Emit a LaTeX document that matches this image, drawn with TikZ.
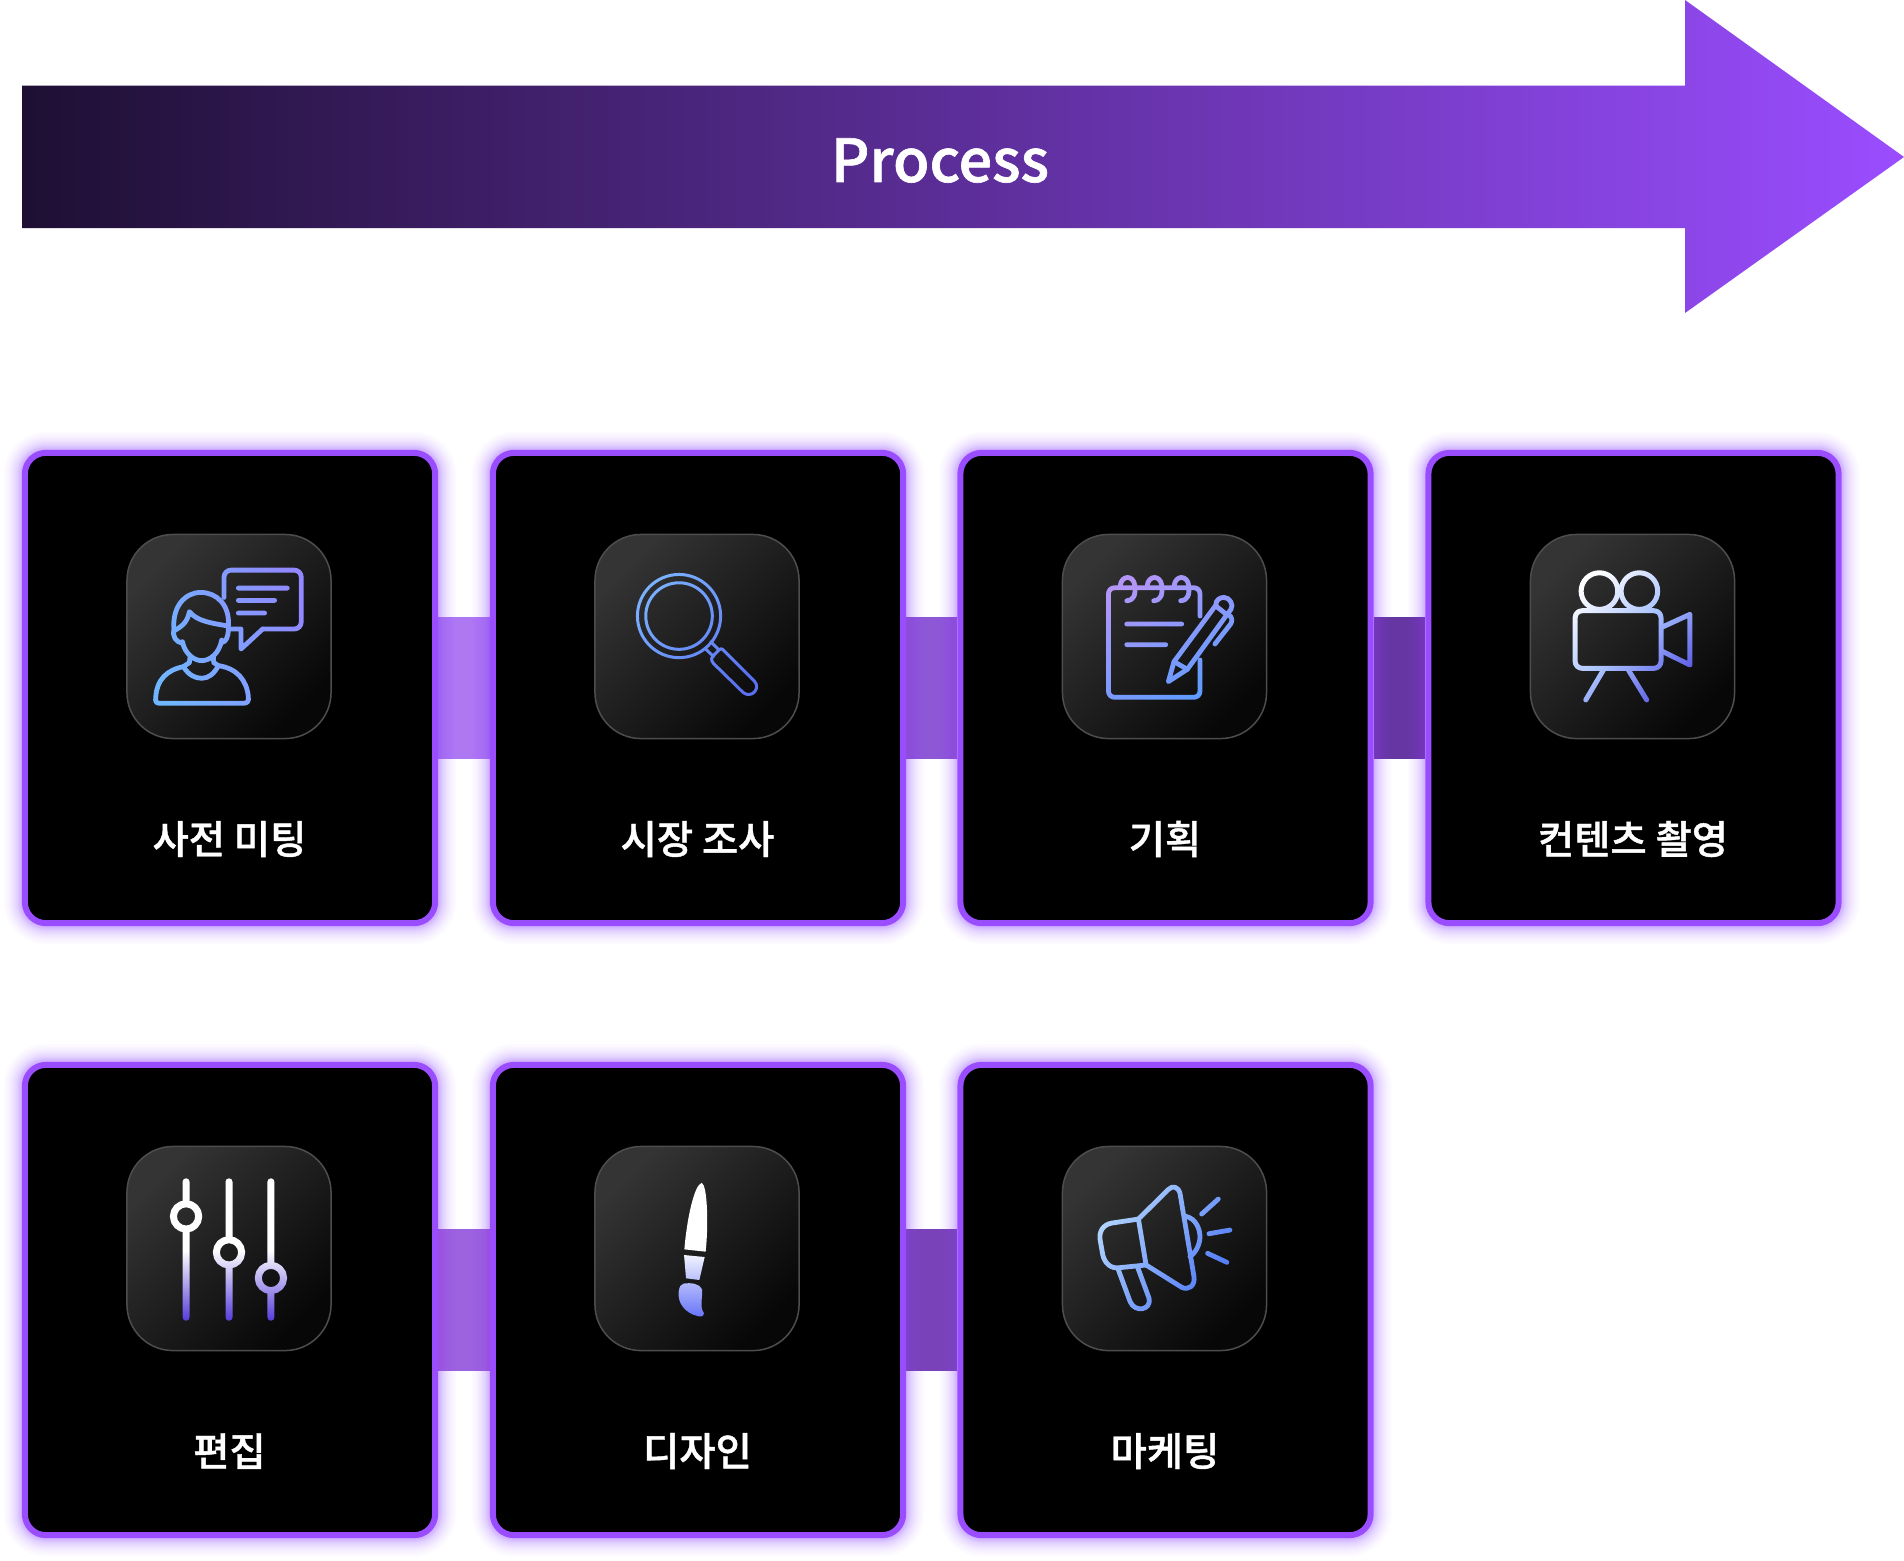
\documentclass[tikz,border=0pt]{standalone}
\usepackage{fontspec}
\usetikzlibrary{fadings}
\pgfdeclarelayer{bars}
\pgfsetlayers{bars,main}
\newfontfamily\krm[FakeBold=1.1]{Noto Sans CJK KR Medium}
\definecolor{pur}{HTML}{9A4DFF}
\definecolor{darkp}{HTML}{1E0F33}
\definecolor{icb}{HTML}{4D4D4D}
\definecolor{ict}{HTML}{343434}
\definecolor{icl}{HTML}{070707}
\tikzset{
  iconline/.style={draw=white,line cap=round,line join=round,line width=0.048cm},
  fadebox/.style={fill=black},
  cardbox/.style={draw=pur,fill=black,line width=0.06cm,rounded corners=0.21cm,minimum width=4.1cm,minimum height=4.7cm,inner sep=0pt,outer sep=0.03cm},
  iconbox/.style={draw=icb,line width=0.015cm,rounded corners=0.46cm,minimum width=2.04cm,minimum height=2.04cm,inner sep=0pt,top color=ict,bottom color=icl,shading angle=45},
  labeltext/.style={text=white,font=\krm\fontsize{11.2pt}{13pt}\selectfont,inner sep=0pt},
  linkbar/.style={line width=1.41cm},
  glowline/.style={draw=pur,rounded corners=0.21cm,opacity=0.026}
}
% --- masks: coordinates are 3x the crop pixels, crop = 260 x 240 px
\begin{tikzfadingfrompicture}[name=fperson,x=0.0033333cm,y=-0.0033333cm]
\fill[fadebox] (0,0) rectangle (780,720);
\draw[iconline,rounded corners=0.07cm] (342,232) -- (342,150) -- (574,150) -- (574,327) -- (458,327);
\draw[iconline] (458,327) -- (393,387) -- (393,327) -- (358,327);
\draw[iconline] (385,204) -- (532,204) (385,241) -- (494,241) (385,279) -- (464,279);
\draw[iconline] (192,332) .. controls (184,260) and (225,217) .. (272,217) .. controls (320,217) and (360,255) .. (355,318);
\draw[iconline] (192,332) .. controls (218,318) and (232,305) .. (238,275) .. controls (262,305) and (310,310) .. (355,318);
\draw[iconline] (192,328) .. controls (186,350) and (197,365) .. (217,370);
\draw[iconline] (355,325) .. controls (355,352) and (348,365) .. (335,368);
\draw[iconline] (217,365) .. controls (225,405) and (255,422) .. (275,422) .. controls (300,422) and (328,400) .. (335,360);
\draw[iconline] (240,410) -- (238,428) -- (220,440) .. controls (170,450) and (140,480) .. (137,530) .. controls (134,548) and (140,550) .. (150,550) -- (400,550) .. controls (412,550) and (417,545) .. (415,530) .. controls (410,480) and (380,445) .. (325,437) -- (311,428) -- (310,410);
\draw[iconline] (220,440) .. controls (235,465) and (255,475) .. (275,475) .. controls (295,475) and (312,462) .. (325,437);
\end{tikzfadingfrompicture}
\begin{tikzfadingfrompicture}[name=fsearch,x=0.0033333cm,y=-0.0033333cm]
\fill[fadebox] (0,0) rectangle (780,720);
\draw[iconline,line width=0.03cm] (327,288) circle (125) (327,288) circle (100);
\draw[iconline,line width=0.03cm] (422,365) -- (446,389) (405,385) -- (431,410);
\draw[iconline,line width=0.03cm] (458,388) -- (553,483) .. controls (574,505) and (545,537) .. (520,518) -- (430,430) .. controls (422,420) and (424,412) .. (432,405) -- (447,390) .. controls (451,386) and (455,385) .. (458,388) -- cycle;
\end{tikzfadingfrompicture}
\begin{tikzfadingfrompicture}[name=fnote,x=0.0033333cm,y=-0.0033333cm]
\fill[fadebox] (0,0) rectangle (780,720);
\draw[iconline,rounded corners=0.06cm] (450,288) -- (450,203) -- (175,203) -- (175,532) -- (450,532) -- (450,420);
\foreach \dx in {0,81,162}{
\draw[iconline,xshift=\dx*0.0033333cm] (230,242) .. controls (252,240) and (257,225) .. (254,195) .. controls (250,165) and (214,163) .. (210,198);
}
\draw[iconline] (230,312) -- (395,312) (230,374) -- (347,374);
\draw[iconline] (372,425) -- (498,255) (412,448) -- (530,285) (372,425) -- (412,448) (498,258) -- (532,285);
\draw[iconline] (372,425) -- (355,485) -- (412,448);
\draw[iconline] (498,258) .. controls (495,240) and (510,232) .. (522,232) .. controls (540,232) and (552,255) .. (543,268) -- (530,285);
\draw[iconline] (535,283) .. controls (547,290) and (548,303) .. (542,312) -- (495,372);
\end{tikzfadingfrompicture}
\begin{tikzfadingfrompicture}[name=fcamera,x=0.0033333cm,y=-0.0033333cm]
\fill[fadebox] (0,0) rectangle (780,720);
\draw[iconline,line width=0.05cm] (238,213) circle (55) (358,213) circle (55);
\draw[iconline,line width=0.05cm,rounded corners=0.07cm] (165,272) rectangle (423,445);
\draw[iconline,line width=0.05cm] (425,322) -- (510,283) -- (510,435) -- (425,393);
\draw[iconline,line width=0.05cm] (250,450) -- (197,540) (325,450) -- (380,540);
\end{tikzfadingfrompicture}
\begin{tikzfadingfrompicture}[name=fslider,x=0.0033333cm,y=-0.0033333cm]
\fill[fadebox] (0,0) rectangle (780,720);
\draw[iconline,line width=0.07cm] (258,155) -- (258,215) (258,300) -- (258,562);
\draw[iconline,line width=0.07cm] (387,155) -- (387,325) (387,410) -- (387,562);
\draw[iconline,line width=0.07cm] (513,155) -- (513,400) (513,490) -- (513,562);
\draw[iconline,line width=0.07cm] (258,259) circle (38) (387,367) circle (38) (513,444) circle (38);
\end{tikzfadingfrompicture}
\begin{tikzfadingfrompicture}[name=fbrush,x=0.0033333cm,y=-0.0033333cm]
\fill[fadebox] (0,0) rectangle (780,720);
\fill[white] (395,158) .. controls (412,165) and (416,280) .. (407,365) -- (343,358) .. controls (350,270) and (372,165) .. (395,158) -- cycle;
\fill[white] (342,375) -- (404,381) -- (388,450) -- (348,445) -- cycle;
\fill[white] (340,461) .. controls (365,457) and (390,462) .. (396,478) .. controls (398,510) and (388,530) .. (402,550) .. controls (400,562) and (390,560) .. (385,559) .. controls (345,550) and (322,520) .. (326,485) .. controls (328,470) and (332,463) .. (340,461) -- cycle;
\end{tikzfadingfrompicture}
\begin{tikzfadingfrompicture}[name=fmega,x=0.0033333cm,y=-0.0033333cm]
\fill[fadebox] (0,0) rectangle (780,720);
\draw[iconline] (265,267) -- (355,178) .. controls (368,165) and (385,170) .. (390,190) -- (432,440) .. controls (436,468) and (415,482) .. (395,472) -- (288,405);
\draw[iconline] (265,267) -- (288,405);
\draw[iconline] (265,267) -- (185,279) .. controls (158,284) and (146,305) .. (150,330) -- (158,375) .. controls (164,400) and (182,417) .. (208,413) -- (288,405);
\draw[iconline] (205,420) -- (240,515) .. controls (255,550) and (305,540) .. (297,505) -- (262,410);
\draw[iconline] (405,258) .. controls (440,265) and (450,300) .. (450,320) .. controls (450,345) and (435,370) .. (420,380);
\draw[iconline] (455,252) -- (505,207) (477,311) -- (540,300) (473,370) -- (531,397);
\end{tikzfadingfrompicture}
% --- one card: name, centre x, centre y, text
\newcommand\mycard[4]{%
  \foreach \g in {8,9,10,11,12,13,14,15,16,18,20,22,24,27,30,33,37,42}{%
    \draw[glowline,line width=\g*0.01cm] (#2-205,#3-235) rectangle (#2+205,#3+235);
  }
  \node[cardbox] (#1) at (#2,#3) {};
  \node[iconbox] (#1i) at (#2-1,#3-51.5) {};
  \node[labeltext] (#1t) at (#2-0.5,#3+151) {#4};
}
% --- gradient-stroked icon: fading, crop x, crop y, shade options, shade box corners
\newcommand\myicon[7]{%
  \shade[path fading=#1,fit fading=false,fading transform={shift={(#2+130,#3+120)}},#4] (#5,#6) rectangle #7;
}
\begin{document}
\begin{tikzpicture}[x=0.01cm,y=-0.01cm]
\useasboundingbox (0,0) rectangle (1904,1560);
\begin{pgfonlayer}{bars}
\fill[white] (0,0) rectangle (1904,1560);
\end{pgfonlayer}
% big arrow
\shade[left color=darkp,right color=pur] (22,85.5) -- (1685,85.5) -- (1685,0) -- (1904,157) -- (1685,313) -- (1685,228) -- (22,228) -- cycle;
\node[text=white,font=\krm\fontsize{16.85pt}{20pt}\selectfont,inner sep=0pt] (proc) at (940,160.5) {Process};
% cards
\mycard{a}{230}{688}{사전 미팅}
\mycard{b}{698}{688}{시장 조사}
\mycard{c}{1165.5}{688}{기획}
\mycard{d}{1633.5}{688}{컨텐츠 촬영}
\mycard{e}{230}{1300}{편집}
\mycard{f}{698}{1300}{디자인}
\mycard{g}{1165.5}{1300}{마케팅}
% connectors
\definecolor{l1}{HTML}{AE78F3}\definecolor{l2}{HTML}{8D57D6}\definecolor{l3}{HTML}{6636A3}
\definecolor{l4}{HTML}{9C62E0}\definecolor{l5}{HTML}{7A42B8}
\begin{pgfonlayer}{bars}
\draw[linkbar,draw=l1] (a.east) -- (b.west);
\draw[linkbar,draw=l2] (b.east) -- (c.west);
\draw[linkbar,draw=l3] (c.east) -- (d.west);
\draw[linkbar,draw=l4] (e.east) -- (f.west);
\draw[linkbar,draw=l5] (f.east) -- (g.west);
\end{pgfonlayer}
% icons
\myicon{fperson}{110}{520}{top color={rgb,255:red,146;green,136;blue,255},bottom color={rgb,255:red,112;green,182;blue,255},shading angle=-70}{150}{565}{(310,710)}
\myicon{fsearch}{570}{520}{top color={rgb,255:red,122;green,178;blue,255},bottom color={rgb,255:red,90;green,112;blue,240},shading angle=45}{630}{565}{(765,700)}
\myicon{fnote}{1050}{520}{top color={rgb,255:red,180;green,150;blue,248},bottom color={rgb,255:red,92;green,156;blue,255},shading angle=30}{1100}{570}{(1240,705)}
\myicon{fcamera}{1520}{520}{top color=white,bottom color={rgb,255:red,88;green,88;blue,228},middle color={rgb,255:red,170;green,195;blue,255},shading angle=45}{1565}{565}{(1700,705)}
\myicon{fslider}{100}{1130}{top color=white,bottom color={rgb,255:red,76;green,48;blue,216},middle color=white}{160}{1175}{(300,1325)}
\myicon{fbrush}{570}{1130}{top color=white,bottom color={rgb,255:red,96;green,110;blue,248},middle color=white}{670}{1178}{(710,1320)}
\myicon{fmega}{1050}{1130}{top color={rgb,255:red,180;green,214;blue,255},bottom color={rgb,255:red,76;green,118;blue,245},shading angle=55}{1095}{1180}{(1235,1315)}
\end{tikzpicture}
\end{document}
